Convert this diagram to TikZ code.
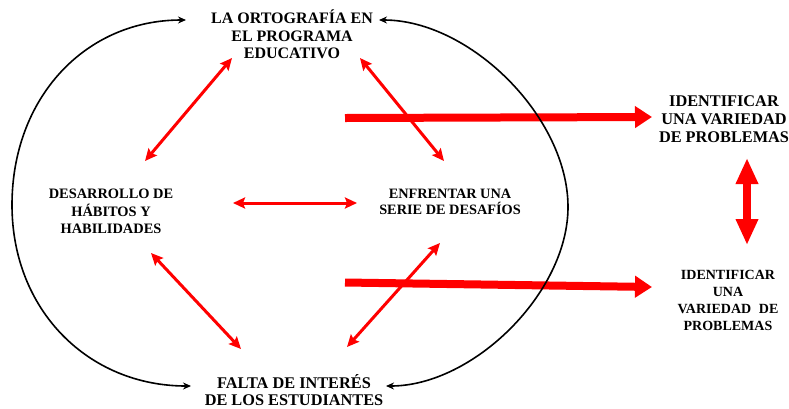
\documentclass[tikz,border=0pt]{standalone}
\usepackage{fontspec}
\setmainfont{Liberation Serif}
\usetikzlibrary{arrows.meta}
\definecolor{arrowred}{RGB}{255,0,0}
\begin{document}
\begin{tikzpicture}[x=1pt,y=-1pt,
  lbl/.style={align=center, inner sep=0pt, anchor=base},
  thinarrow/.style={draw=arrowred, line width=3pt,
     {Stealth[length=12pt,width=11pt,inset=2pt]}-{Stealth[length=12pt,width=11pt,inset=2pt]}},
  bigarrow/.style={draw=arrowred, line width=8pt,
     -{Triangle[length=17pt,width=21pt]}},
  vertarrow/.style={draw=arrowred, line width=8pt,
     {Triangle[length=26pt,width=21pt]}-{Triangle[length=26pt,width=21pt]}},
  blackarc/.style={draw=black, line width=1.6pt,
     {Stealth[length=8pt,width=7pt]}-{Stealth[length=8pt,width=7pt]}}
]
\fill[white] (0,0) rectangle (789,408);
\useasboundingbox (0,0) rectangle (789,408);

% text nodes (base anchor = baseline of the last line)
\node[lbl, font=\bfseries\fontsize{16}{17.6}\selectfont] (top) at (292,58.6)
  {LA ORTOGRAFÍA EN\\EL PROGRAMA\\EDUCATIVO};
\node[lbl, font=\bfseries\fontsize{14.4}{17.5}\selectfont] (left) at (111,233.8)
  {DESARROLLO DE\\HÁBITOS Y\\HABILIDADES};
\node[lbl, font=\bfseries\fontsize{14.3}{15.3}\selectfont] (mid) at (450,214)
  {ENFRENTAR UNA\\SERIE DE DESAFÍOS};
\node[lbl, font=\bfseries\fontsize{16.3}{17.5}\selectfont] (bottom) at (294,405.6)
  {FALTA DE INTERÉS\\DE LOS ESTUDIANTES};
\node[lbl, font=\bfseries\fontsize{16.3}{18}\selectfont] (right1) at (724,142.4)
  {IDENTIFICAR\\UNA VARIEDAD\\DE PROBLEMAS};
\node[lbl, font=\bfseries\fontsize{14}{17}\selectfont] (right2) at (728,330.6)
  {IDENTIFICAR\\UNA\\VARIEDAD\hspace{0.3em} DE\\PROBLEMAS};

% arrow end points
\coordinate (a1s) at (232,58);  \coordinate (a1e) at (145,161);
\coordinate (a2s) at (360,58);  \coordinate (a2e) at (444,161);
\coordinate (a3s) at (233,203); \coordinate (a3e) at (357,203);
\coordinate (a4s) at (151,253); \coordinate (a4e) at (241,349);
\coordinate (a5s) at (347,347); \coordinate (a5e) at (440,243);
\coordinate (h1s) at (345,118); \coordinate (h1e) at (652,117);
\coordinate (h2s) at (345,282.5); \coordinate (h2e) at (652,287);
\coordinate (v1) at (747,158);  \coordinate (v2) at (747,245);
\coordinate (tl) at (186,20);   \coordinate (bl) at (191,386);
\coordinate (tr) at (379,20);   \coordinate (br) at (386,386);

% thick red arrows
\draw[bigarrow] (h1s) -- (h1e);
\draw[bigarrow] (h2s) -- (h2e);
\draw[vertarrow] (v1) -- (v2);

% thin red arrows
\draw[thinarrow] (a1s) -- (a1e);
\draw[thinarrow] (a2s) -- (a2e);
\draw[thinarrow] (a3s) -- (a3e);
\draw[thinarrow] (a4s) -- (a4e);
\draw[thinarrow] (a5s) -- (a5e);

% black arcs
\draw[blackarc] (tl) .. controls (85,20) and (12,98) .. (12,205)
  .. controls (12,310) and (88,386) .. (bl);
\draw[blackarc] (tr) .. controls (470,20) and (568,117) .. (568,207)
  .. controls (568,293) and (473,386) .. (br);
\end{tikzpicture}
\end{document}
